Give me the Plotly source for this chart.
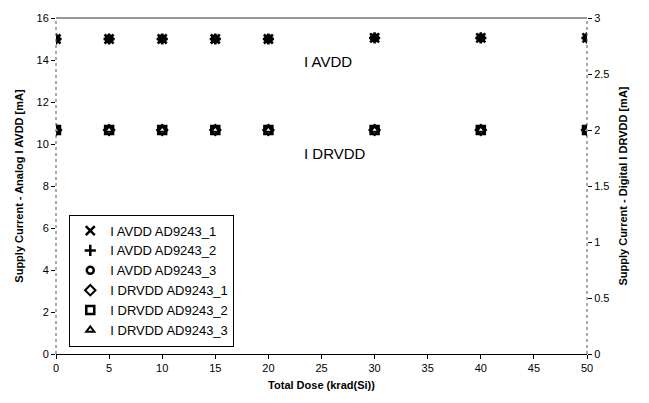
import plotly.graph_objects as go

# Total dose steps (krad(Si))
dose = [0, 5, 10, 15, 20, 30, 40, 50]

# Analog supply current I AVDD per device (mA, left axis)
avdd_1 = [15.0, 15.0, 15.0, 15.0, 15.0, 15.05, 15.05, 15.05]
avdd_2 = [15.0, 15.0, 15.0, 15.0, 15.0, 15.05, 15.05, 15.05]
avdd_3 = [15.0, 15.0, 15.0, 15.0, 15.0, 15.05, 15.05, 15.05]

# Digital supply current I DRVDD per device (mA, right axis)
drvdd_1 = [2.0, 2.0, 2.0, 2.0, 2.0, 2.0, 2.0, 2.0]
drvdd_2 = [2.0, 2.0, 2.0, 2.0, 2.0, 2.0, 2.0, 2.0]
drvdd_3 = [2.0, 2.0, 2.0, 2.0, 2.0, 2.0, 2.0, 2.0]

left_ticks = [0, 2, 4, 6, 8, 10, 12, 14, 16]
right_ticks = [0, 0.5, 1, 1.5, 2, 2.5, 3]
x_ticks = [0, 5, 10, 15, 20, 25, 30, 35, 40, 45, 50]

FONT = "Liberation Sans, Arial, sans-serif"

series = [
    ("I AVDD AD9243_1", avdd_1, "x-thin-open", "y", 9, 2.5),
    ("I AVDD AD9243_2", avdd_2, "cross-thin-open", "y", 8, 2.5),
    ("I AVDD AD9243_3", avdd_3, "circle-open", "y", 7, 2.5),
    ("I DRVDD AD9243_1", drvdd_1, "diamond-open", "y2", 8, 2),
    ("I DRVDD AD9243_2", drvdd_2, "square-open", "y2", 8, 2.5),
    ("I DRVDD AD9243_3", drvdd_3, "triangle-up-open", "y2", 7, 2),
]

fig = go.Figure()
for name, vals, sym, ax, size, lw in series:
    fig.add_trace(go.Scatter(
        x=dose, y=vals, name=name, mode="markers", yaxis=ax,
        marker=dict(symbol=sym, size=size, color="black",
                    line=dict(color="black", width=lw)),
    ))

fig.update_layout(
    width=649, height=403,
    margin=dict(l=56, r=62, t=13, b=49),
    paper_bgcolor="white", plot_bgcolor="white",
    font=dict(family=FONT, size=11, color="black"),
    showlegend=True,
    legend=dict(
        x=0.025, y=0.415, xanchor="left", yanchor="top",
        bgcolor="white", bordercolor="black", borderwidth=1,
        font=dict(family=FONT, size=13, color="black"),
        itemwidth=30, tracegroupgap=0,
    ),
    xaxis=dict(
        range=[0, 50], tickvals=x_ticks, ticks="outside", ticklen=4,
        tickcolor="black", showline=True, linecolor="black", linewidth=1,
        showgrid=False, zeroline=False,
        title=dict(text="<b>Total Dose (krad(Si))</b>", font=dict(size=11), standoff=8),
    ),
    yaxis=dict(
        range=[0, 16], tickvals=left_ticks, ticks="outside", ticklen=4,
        tickcolor="black", showline=False, showgrid=False, zeroline=False,
        title=dict(text="<b>Supply Current - Analog I AVDD [mA]</b>", font=dict(size=11), standoff=10),
    ),
    yaxis2=dict(
        range=[0, 3], tickvals=right_ticks, ticks="outside", ticklen=4,
        tickcolor="black", overlaying="y", side="right", showline=False,
        showgrid=False, zeroline=False,
        title=dict(text="<b>Supply Current - Digital I DRVDD [mA]</b>", font=dict(size=11), standoff=10),
    ),
    annotations=[
        dict(x=25.6, y=13.94, xref="x", yref="y", text="I AVDD", showarrow=False,
             font=dict(family=FONT, size=15, color="black")),
        dict(x=26.3, y=9.57, xref="x", yref="y", text="I DRVDD", showarrow=False,
             font=dict(family=FONT, size=15, color="black")),
    ],
    shapes=[
        # dotted side axes and the top frame line
        dict(type="line", xref="paper", yref="paper", x0=0, x1=0, y0=0, y1=1,
             line=dict(color="#555555", width=1, dash="dot")),
        dict(type="line", xref="paper", yref="paper", x0=1, x1=1, y0=0, y1=1,
             line=dict(color="#555555", width=1, dash="dot")),
        dict(type="line", xref="paper", yref="paper", x0=0, x1=1, y0=1, y1=1,
             line=dict(color="#333333", width=1)),
    ],
)

fig.write_html("out.html")
